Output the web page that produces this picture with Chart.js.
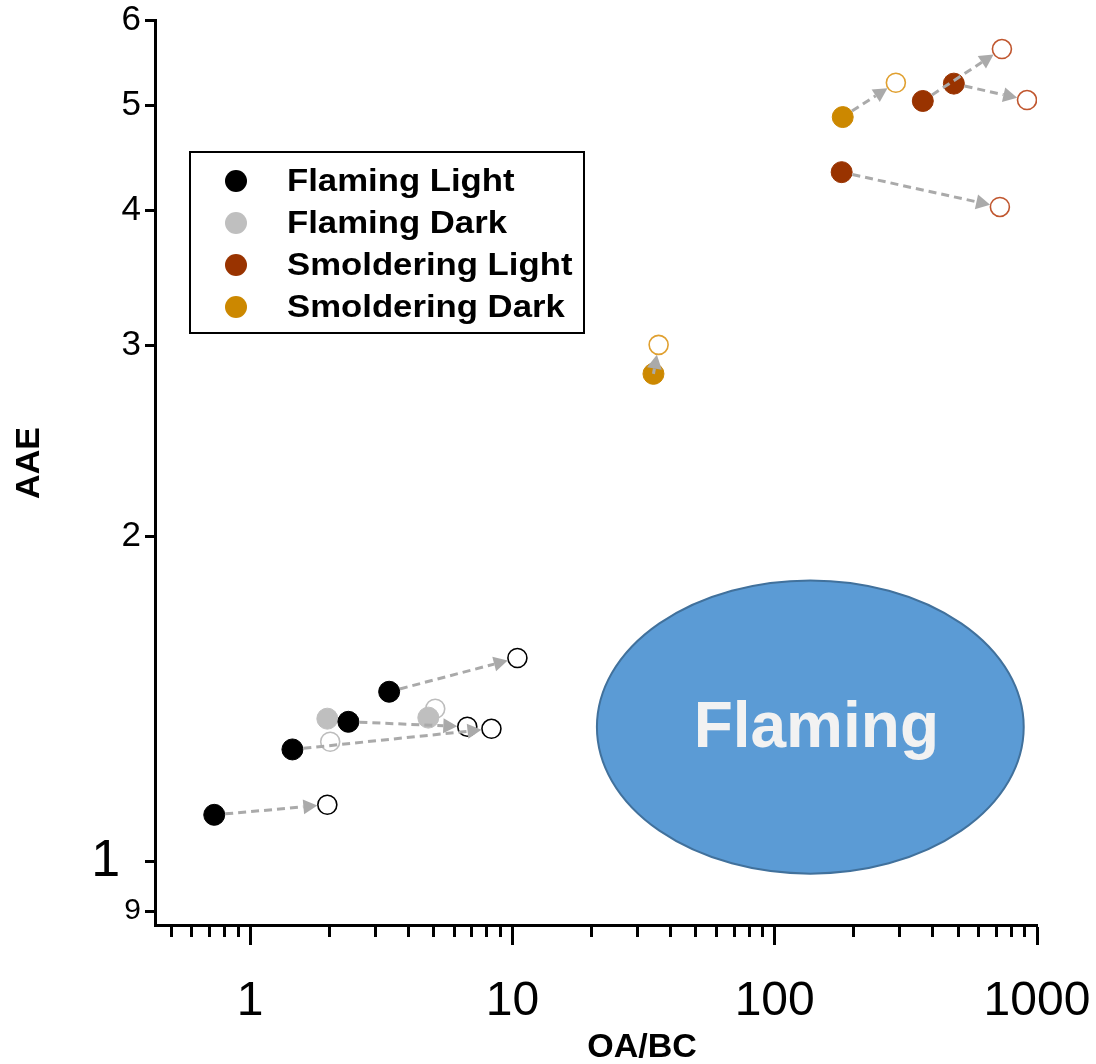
<!DOCTYPE html>
<html>
<head>
<meta charset="utf-8">
<script src="https://cdn.jsdelivr.net/npm/chart.js@4.4.1/dist/chart.umd.min.js"></script>
<style>
  html, body { margin: 0; padding: 0; background: #ffffff; }
</style>
</head>
<body>
<canvas id="chart" width="1096" height="1064"></canvas>
<script>
// OA/BC vs AAE, filled = measured, open = shifted value, arrows link the two
const flamingLightX = [0.73, 1.45, 2.37, 3.39];
const flamingLightY = [1.105, 1.27, 1.347, 1.436];
const flamingLightOpenX = [1.97, 8.32, 6.73, 10.45];
const flamingLightOpenY = [1.129, 1.327, 1.333, 1.543];

const flamingDarkX = [1.97, 4.78];
const flamingDarkY = [1.356, 1.359];
const flamingDarkOpenX = [2.02, 5.08];
const flamingDarkOpenY = [1.291, 1.385];

const smolderingLightX = [367, 482, 180];
const smolderingLightY = [5.05, 5.24, 4.34];
const smolderingLightOpenX = [735, 916, 722];
const smolderingLightOpenY = [5.64, 5.06, 4.03];

const smolderingDarkX = [34.5, 181.7];
const smolderingDarkY = [2.825, 4.88];
const smolderingDarkOpenX = [36.1, 289.7];
const smolderingDarkOpenY = [3.005, 5.25];

const xTicks = [0.5, 0.6, 0.7, 0.8, 0.9, 1, 2, 3, 4, 5, 6, 7, 8, 9, 10,
    20, 30, 40, 50, 60, 70, 80, 90, 100, 200, 300, 400, 500, 600, 700, 800, 900, 1000];
const xLabelTicks = [1, 10, 100, 1000];
const yTicks = [0.9, 1, 2, 3, 4, 5, 6];

// shaded "Flaming" region (data units)
const flamingRegionX = [21, 890];
const flamingRegionY = [0.975, 1.82];

const FONT = "'Liberation Sans', Arial, Helvetica, sans-serif";

const groups = [
    { label: 'Flaming Light', color: '#000000', openColor: '#000000',
      x: flamingLightX, y: flamingLightY, ox: flamingLightOpenX, oy: flamingLightOpenY },
    { label: 'Flaming Dark', color: '#bfbfbf', openColor: '#bdbdbd',
      x: flamingDarkX, y: flamingDarkY, ox: flamingDarkOpenX, oy: flamingDarkOpenY },
    { label: 'Smoldering Light', color: '#993300', openColor: '#c0562e',
      x: smolderingLightX, y: smolderingLightY, ox: smolderingLightOpenX, oy: smolderingLightOpenY },
    { label: 'Smoldering Dark', color: '#cc8800', openColor: '#e0a030',
      x: smolderingDarkX, y: smolderingDarkY, ox: smolderingDarkOpenX, oy: smolderingDarkOpenY }
];

const toPoints = (xs, ys) => xs.map((v, i) => ({ x: v, y: ys[i] }));

// filled first so they sit on top of the open markers
const datasets = [];
groups.forEach(g => datasets.push({
    label: g.label,
    data: toPoints(g.x, g.y),
    backgroundColor: g.color,
    borderColor: g.color,
    borderWidth: 1,
    pointRadius: 10.5,
    pointHoverRadius: 10.5
}));
groups.forEach(g => datasets.push({
    label: g.label + ' (open)',
    data: toPoints(g.ox, g.oy),
    backgroundColor: '#ffffff',
    borderColor: g.openColor,
    borderWidth: 1.6,
    pointRadius: 9.5,
    pointHoverRadius: 9.5
}));

const regionPlugin = {
    id: 'flamingRegion',
    beforeDatasetsDraw(chart) {
        const { ctx, scales: { x, y } } = chart;
        const x0 = x.getPixelForValue(flamingRegionX[0]);
        const x1 = x.getPixelForValue(flamingRegionX[1]);
        const y0 = y.getPixelForValue(flamingRegionY[1]);
        const y1 = y.getPixelForValue(flamingRegionY[0]);
        const cx = (x0 + x1) / 2, cy = (y0 + y1) / 2;
        ctx.save();
        ctx.beginPath();
        ctx.ellipse(cx, cy, (x1 - x0) / 2, (y1 - y0) / 2, 0, 0, Math.PI * 2);
        ctx.fillStyle = '#5b9bd5';
        ctx.fill();
        ctx.lineWidth = 2;
        ctx.strokeStyle = '#41719c';
        ctx.stroke();
        ctx.fillStyle = '#f2f2f2';
        ctx.font = 'bold 64px ' + FONT;
        ctx.textAlign = 'center';
        ctx.textBaseline = 'middle';
        ctx.fillText('Flaming', cx + 6, cy + 2);
        ctx.restore();
    }
};

const arrowPlugin = {
    id: 'shiftArrows',
    afterDatasetsDraw(chart) {
        const { ctx, scales: { x, y } } = chart;
        ctx.save();
        ctx.strokeStyle = '#aaaaaa';
        ctx.fillStyle = '#aaaaaa';
        ctx.lineWidth = 3;
        groups.forEach(g => {
            g.x.forEach((v, i) => {
                const x1 = x.getPixelForValue(v), y1 = y.getPixelForValue(g.y[i]);
                const x2 = x.getPixelForValue(g.ox[i]), y2 = y.getPixelForValue(g.oy[i]);
                const dx = x2 - x1, dy = y2 - y1;
                const len = Math.hypot(dx, dy);
                if (len < 25) return; // too close, marker hides it
                const ux = dx / len, uy = dy / len;
                const start = len > 45 ? 11 : 0;
                const head = 14, half = 7.5;
                const tipX = x2 - ux * 10, tipY = y2 - uy * 10;
                const baseX = tipX - ux * head, baseY = tipY - uy * head;
                ctx.setLineDash([8, 5]);
                ctx.beginPath();
                ctx.moveTo(x1 + ux * start, y1 + uy * start);
                ctx.lineTo(baseX, baseY);
                ctx.stroke();
                ctx.setLineDash([]);
                ctx.beginPath();
                ctx.moveTo(tipX, tipY);
                ctx.lineTo(baseX - uy * half, baseY + ux * half);
                ctx.lineTo(baseX + uy * half, baseY - ux * half);
                ctx.closePath();
                ctx.fill();
            });
        });
        ctx.restore();
    }
};

const legendPlugin = {
    id: 'boxLegend',
    afterDraw(chart) {
        const ctx = chart.ctx;
        const left = 190, top = 152, w = 394, h = 181;
        ctx.save();
        ctx.fillStyle = '#ffffff';
        ctx.fillRect(left, top, w, h);
        ctx.lineWidth = 2;
        ctx.strokeStyle = '#000000';
        ctx.strokeRect(left, top, w, h);
        ctx.textBaseline = 'middle';
        ctx.font = 'bold 31px ' + FONT;
        groups.forEach((g, i) => {
            const rowY = top + 29 + i * 42;
            ctx.beginPath();
            ctx.arc(left + 46, rowY, 11, 0, Math.PI * 2);
            ctx.fillStyle = g.color;
            ctx.fill();
            ctx.save();
            ctx.translate(left + 97, rowY + 1);
            ctx.scale(1.12, 1);
            ctx.fillStyle = '#000000';
            ctx.fillText(g.label, 0, 0);
            ctx.restore();
        });
        ctx.restore();
    }
};

const axisTitlePlugin = {
    id: 'axisTitles',
    afterDraw(chart) {
        const ctx = chart.ctx;
        ctx.save();
        ctx.fillStyle = '#000000';
        ctx.font = 'bold 34px ' + FONT;
        ctx.textAlign = 'center';
        ctx.textBaseline = 'middle';
        ctx.fillText('OA/BC', 642, 1048);
        ctx.translate(30, 463);
        ctx.rotate(-Math.PI / 2);
        ctx.fillText('AAE', 0, 0);
        ctx.restore();
    }
};

new Chart(document.getElementById('chart'), {
    type: 'scatter',
    data: { datasets: datasets },
    plugins: [regionPlugin, arrowPlugin, legendPlugin, axisTitlePlugin],
    options: {
        responsive: false,
        devicePixelRatio: 1,
        animation: false,
        layout: { padding: { top: 20, right: 59, left: 0, bottom: 0 } },
        plugins: {
            legend: { display: false },
            tooltip: { enabled: false }
        },
        scales: {
            x: {
                type: 'logarithmic',
                position: 'bottom',
                min: 0.434,
                max: 1000,
                afterBuildTicks: s => { s.ticks = xTicks.map(v => ({ value: v })); },
                afterFit: s => {
                    s.height = 139;
                    s.paddingLeft = 0;
                    s.paddingRight = 0;
                },
                border: { display: true, color: '#000000', width: 3 },
                grid: {
                    drawOnChartArea: false,
                    drawTicks: true,
                    tickLength: 20,
                    tickWidth: 3,
                    tickColor: '#000000',
                    tickBorderDash: c => xLabelTicks.includes(c.tick.value) ? [] : [10, 40]
                },
                ticks: {
                    autoSkip: false,
                    maxRotation: 0,
                    padding: 28,
                    color: '#000000',
                    font: { family: FONT, size: 48 },
                    callback: v => xLabelTicks.includes(v) ? String(v) : ''
                }
            },
            y: {
                type: 'logarithmic',
                position: 'left',
                min: 0.874,
                max: 6,
                afterBuildTicks: s => { s.ticks = yTicks.map(v => ({ value: v })); },
                afterFit: s => {
                    s.width = 155;
                    s.paddingTop = 0;
                    s.paddingBottom = 0;
                },
                border: { display: true, color: '#000000', width: 3 },
                grid: {
                    drawOnChartArea: false,
                    drawTicks: true,
                    tickLength: 10,
                    tickWidth: 3,
                    tickColor: '#000000'
                },
                ticks: {
                    autoSkip: false,
                    padding: 4,
                    color: '#000000',
                    font: c => {
                        const v = c.tick ? c.tick.value : 2;
                        if (v === 1) return { family: FONT, size: 52 };
                        if (v === 0.9) return { family: FONT, size: 30 };
                        return { family: FONT, size: 35 };
                    },
                    callback: v => v === 0.9 ? '9' : (v === 1 ? '1\u2009\u2009' : String(v))
                }
            }
        }
    }
});
</script>
</body>
</html>
